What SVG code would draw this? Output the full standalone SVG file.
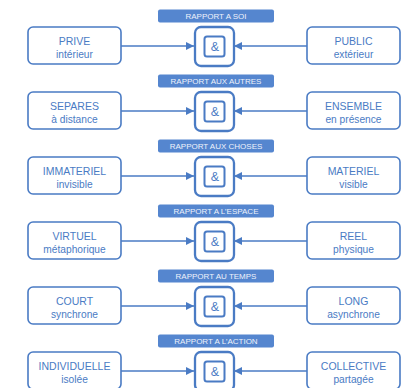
<svg xmlns="http://www.w3.org/2000/svg" width="407" height="388" viewBox="0 0 407 388">
<defs>
<style>
.box{fill:#fff;stroke:#4a7bc4;stroke-width:1.6}
.outer{fill:#fff;stroke:#4a7bc4;stroke-width:2.3}
.inner{fill:#fff;stroke:#4a7bc4;stroke-width:2}
.banner{fill:#5586cf}
.bt{font-family:"Liberation Sans",Arial,sans-serif;font-size:8px;fill:#eef2fb;text-anchor:middle}
.t{font-family:"Liberation Sans",Arial,sans-serif;font-size:10.5px;fill:#4a7bc4;text-anchor:middle}
.s{font-family:"Liberation Sans",Arial,sans-serif;font-size:10.2px;fill:#4a7bc4;text-anchor:middle}
.amp{font-family:"Liberation Sans",Arial,sans-serif;font-size:12.5px;fill:#4a7bc4;text-anchor:middle}
.c{stroke:#4a7bc4;stroke-width:1.6;fill:none}
</style>
<marker id="ah" viewBox="0 0 8 8" refX="8" refY="4" markerWidth="8" markerHeight="8" markerUnits="userSpaceOnUse" orient="auto">
<path d="M0,0 L8,4 L0,8 Z" fill="#4a7bc4"/>
</marker>
<g id="row">
<rect class="banner" x="158" y="9.5" width="116" height="13" rx="2"/>
<rect class="box" x="28" y="27" width="93" height="37" rx="5"/>
<rect class="box" x="307" y="27" width="93" height="37" rx="5"/>
<rect class="outer" x="195" y="27" width="39" height="39" rx="6"/>
<rect class="inner" x="204.5" y="36.5" width="20" height="20" rx="2.5"/>
<text class="amp" x="215" y="51">&amp;</text>
</g>
</defs>
<g id="connectors">
<line class="c" x1="121" y1="46" x2="194" y2="46" marker-end="url(#ah)"/>
<line class="c" x1="307" y1="46" x2="234" y2="46" marker-end="url(#ah)"/>
<line class="c" x1="121" y1="111" x2="194" y2="111" marker-end="url(#ah)"/>
<line class="c" x1="307" y1="111" x2="234" y2="111" marker-end="url(#ah)"/>
<line class="c" x1="121" y1="176" x2="194" y2="176" marker-end="url(#ah)"/>
<line class="c" x1="307" y1="176" x2="234" y2="176" marker-end="url(#ah)"/>
<line class="c" x1="121" y1="241" x2="194" y2="241" marker-end="url(#ah)"/>
<line class="c" x1="307" y1="241" x2="234" y2="241" marker-end="url(#ah)"/>
<line class="c" x1="121" y1="306" x2="194" y2="306" marker-end="url(#ah)"/>
<line class="c" x1="307" y1="306" x2="234" y2="306" marker-end="url(#ah)"/>
<line class="c" x1="121" y1="371" x2="194" y2="371" marker-end="url(#ah)"/>
<line class="c" x1="307" y1="371" x2="234" y2="371" marker-end="url(#ah)"/>
</g>
<g id="row1">
<use href="#row"/>
<text class="bt" x="216" y="19.3">RAPPORT A SOI</text>
<text class="t" x="74.5" y="45">PRIVE</text>
<text class="s" x="74.5" y="58">intérieur</text>
<text class="t" x="353.5" y="45">PUBLIC</text>
<text class="s" x="353.5" y="58">extérieur</text>
</g>
<g id="row2" transform="translate(0,65)">
<use href="#row"/>
<text class="bt" x="216" y="19.3">RAPPORT AUX AUTRES</text>
<text class="t" x="74.5" y="45">SEPARES</text>
<text class="s" x="74.5" y="58">à distance</text>
<text class="t" x="353.5" y="45">ENSEMBLE</text>
<text class="s" x="353.5" y="58">en présence</text>
</g>
<g id="row3" transform="translate(0,130)">
<use href="#row"/>
<text class="bt" x="216" y="19.3">RAPPORT AUX CHOSES</text>
<text class="t" x="74.5" y="45">IMMATERIEL</text>
<text class="s" x="74.5" y="58">invisible</text>
<text class="t" x="353.5" y="45">MATERIEL</text>
<text class="s" x="353.5" y="58">visible</text>
</g>
<g id="row4" transform="translate(0,195)">
<use href="#row"/>
<text class="bt" x="216" y="19.3">RAPPORT A L’ESPACE</text>
<text class="t" x="74.5" y="45">VIRTUEL</text>
<text class="s" x="74.5" y="58">métaphorique</text>
<text class="t" x="353.5" y="45">REEL</text>
<text class="s" x="353.5" y="58">physique</text>
</g>
<g id="row5" transform="translate(0,260)">
<use href="#row"/>
<text class="bt" x="216" y="19.3">RAPPORT AU TEMPS</text>
<text class="t" x="74.5" y="45">COURT</text>
<text class="s" x="74.5" y="58">synchrone</text>
<text class="t" x="353.5" y="45">LONG</text>
<text class="s" x="353.5" y="58">asynchrone</text>
</g>
<g id="row6" transform="translate(0,325)">
<use href="#row"/>
<text class="bt" x="216" y="19.3">RAPPORT A L’ACTION</text>
<text class="t" x="74.5" y="45">INDIVIDUELLE</text>
<text class="s" x="74.5" y="58">isolée</text>
<text class="t" x="353.5" y="45">COLLECTIVE</text>
<text class="s" x="353.5" y="58">partagée</text>
</g>
</svg>
